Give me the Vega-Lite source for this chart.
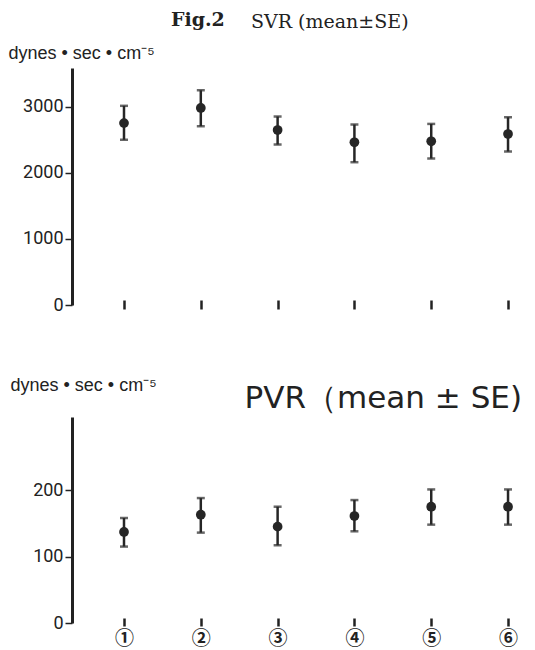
{
  "$schema": "https://vega.github.io/schema/vega-lite/v6.json",
  "background": "white",
  "padding": {"left": 8, "top": 11, "right": 0, "bottom": 0},
  "config": {"view": {"stroke": null}, "font": "Liberation Sans"},
  "datasets": {
    "svr": [
      {"t": 1, "mean": 2755, "lower": 2503, "upper": 3017},
      {"t": 2, "mean": 2985, "lower": 2708, "upper": 3253},
      {"t": 3, "mean": 2650, "lower": 2431, "upper": 2855},
      {"t": 4, "mean": 2465, "lower": 2163, "upper": 2734},
      {"t": 5, "mean": 2480, "lower": 2219, "upper": 2743},
      {"t": 6, "mean": 2590, "lower": 2325, "upper": 2844}
    ],
    "pvr": [
      {"t": 1, "mean": 137, "lower": 115, "upper": 158},
      {"t": 2, "mean": 163, "lower": 136, "upper": 188},
      {"t": 3, "mean": 145, "lower": 117, "upper": 175},
      {"t": 4, "mean": 161, "lower": 138, "upper": 185},
      {"t": 5, "mean": 175, "lower": 148, "upper": 201},
      {"t": 6, "mean": 175, "lower": 148, "upper": 201}
    ]
  },
  "title": {
    "text": "Fig.2",
    "anchor": "start",
    "font": "DejaVu Serif",
    "fontSize": 19,
    "fontWeight": "bold",
    "color": "#222",
    "baseline": "alphabetic",
    "dx": 163,
    "offset": -32
  },
  "spacing": 62,
  "vconcat": [
    {
      "width": 455,
      "height": 237,
      "data": {"name": "svr"},
      "title": {"text": "SVR (mean±SE)", "anchor": "start", "frame": "group", "font": "DejaVu Serif", "fontSize": 19, "fontWeight": "normal", "color": "#222", "baseline": "alphabetic", "dx": 179, "offset": -3},
      "encoding": {
        "x": {
          "field": "t", "type": "quantitative",
          "scale": {"domain": [0.323, 6.247], "nice": false, "zero": false},
          "axis": {"values": [1, 2, 3, 4, 5, 6], "domain": false, "labels": false, "tickSize": 9, "tickWidth": 2.5, "tickColor": "#222", "offset": -5, "title": null, "grid": false}
        }
      },
      "layer": [
        {
          "mark": {"type": "errorbar", "ticks": {"size": 8, "thickness": 2.5, "color": "#262626"}, "rule": {"strokeWidth": 2.5, "color": "#262626"}},
          "encoding": {
            "y": {
              "field": "lower", "type": "quantitative",
              "scale": {"domain": [0, 3590], "nice": false},
              "axis": {"values": [0, 1000, 2000, 3000], "format": "d", "title": "dynes • sec • cm⁻⁵", "titleAngle": 0, "titleAlign": "left", "titleBaseline": "alphabetic", "titleX": -64, "titleY": -10, "titleFont": "Liberation Sans", "titleFontSize": 18, "titleFontWeight": "normal", "titleColor": "#222", "domainColor": "#222", "domainWidth": 3, "tickColor": "#222", "tickWidth": 1.5, "tickSize": 7, "labelFont": "Roboto", "labelFontSize": 18, "labelColor": "#222", "labelPadding": 2, "grid": false}
            },
            "y2": {"field": "upper"}
          }
        },
        {
          "mark": {"type": "circle", "size": 95, "color": "#262626", "opacity": 1},
          "encoding": {"y": {"field": "mean", "type": "quantitative"}}
        }
      ]
    },
    {
      "width": 455,
      "height": 206,
      "data": {"name": "pvr"},
      "title": {"text": "PVR（mean ± SE)", "anchor": "end", "font": "DejaVu Sans", "fontSize": 31, "fontWeight": "normal", "color": "#222", "baseline": "alphabetic", "offset": -63, "dx": -5, "frame": "group"},
      "encoding": {
        "x": {
          "field": "t", "type": "quantitative",
          "scale": {"domain": [0.323, 6.247], "nice": false, "zero": false},
          "axis": {"values": [1, 2, 3, 4, 5, 6], "domain": false, "labelExpr": "['①','②','③','④','⑤','⑥'][datum.value-1]", "labelFont": "Noto Sans CJK JP", "labelFontSize": 19, "labelFontWeight": "bold", "labelColor": "#222", "labelPadding": 3, "tickSize": 8, "tickWidth": 2.5, "tickColor": "#222", "offset": -5, "title": null, "grid": false}
        }
      },
      "layer": [
        {
          "mark": {"type": "errorbar", "ticks": {"size": 8, "thickness": 2.5, "color": "#262626"}, "rule": {"strokeWidth": 2.5, "color": "#262626"}},
          "encoding": {
            "y": {
              "field": "lower", "type": "quantitative",
              "scale": {"domain": [0, 310], "nice": false},
              "axis": {"values": [0, 100, 200], "format": "d", "title": "dynes • sec • cm⁻⁵", "titleAngle": 0, "titleAlign": "left", "titleBaseline": "alphabetic", "titleX": -62, "titleY": -27, "titleFont": "Liberation Sans", "titleFontSize": 18, "titleFontWeight": "normal", "titleColor": "#222", "domainColor": "#222", "domainWidth": 3, "tickColor": "#222", "tickWidth": 1.5, "tickSize": 7, "labelFont": "Roboto", "labelFontSize": 18, "labelColor": "#222", "labelPadding": 2, "grid": false}
            },
            "y2": {"field": "upper"}
          }
        },
        {
          "mark": {"type": "circle", "size": 95, "color": "#262626", "opacity": 1},
          "encoding": {"y": {"field": "mean", "type": "quantitative"}}
        }
      ]
    }
  ]
}
